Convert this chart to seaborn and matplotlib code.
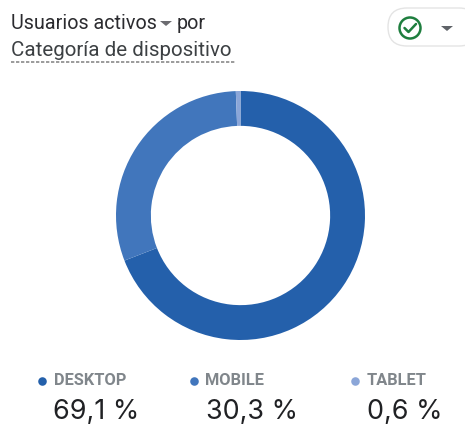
"""Donut chart of active users by device category."""

import matplotlib
matplotlib.use("Agg")
import matplotlib.pyplot as plt
from matplotlib.patches import FancyBboxPatch, Circle
import seaborn as sns

categories = ["DESKTOP", "MOBILE", "TABLET"]
shares = [69.1, 30.3, 0.6]
share_labels = ["69,1 %", "30,3 %", "0,6 %"]
colors = ["#2460AB", "#4176BC", "#8BA6D8"]

sns.set_theme(style="white")
plt.rcParams["font.family"] = ["Roboto", "DejaVu Sans"]

fig = plt.figure(figsize=(4.65, 4.25), dpi=100, facecolor="white")

# overlay in pixel coordinates for the text and widgets
bg = fig.add_axes([0, 0, 1, 1])
bg.set_xlim(0, 465)
bg.set_ylim(425, 0)
bg.axis("off")

# --- Donut ---
ax = fig.add_axes([116 / 465, (425 - 340) / 425, 249 / 465, 249 / 425])
ax.pie(
    shares,
    colors=colors,
    startangle=90,
    counterclock=False,
    radius=1.0,
    wedgeprops={"width": 0.28, "edgecolor": "none"},
)
ax.set_xlim(-1, 1)
ax.set_ylim(-1, 1)

# --- Header ---
bg.text(11, 23, "Usuarios activos", fontsize=14.2, color="#2b2b2f", va="center")
bg.fill([160, 172, 166], [21, 21, 26], color="#6b6b70", lw=0)
bg.text(177, 23, "por", fontsize=14.2, color="#2b2b2f", va="center")
bg.text(11, 50, "Categoría de dispositivo", fontsize=14.8, color="#3c4043", va="center")
bg.plot([11, 235], [61.5, 61.5], color="#8a8a8a", lw=1.2, ls=(0, (2, 1)))

# --- Status button ---
bg.add_patch(FancyBboxPatch(
    (388, 8), 90, 38, boxstyle="round,pad=0,rounding_size=19",
    fc="white", ec="#e4e4e4", lw=1,
))
bg.add_patch(Circle((410, 28), 10.5, fc="none", ec="#1e7e3e", lw=1.8))
bg.plot([404.5, 408.5, 416], [28, 32, 24], color="#1e7e3e", lw=1.8)
bg.fill([441, 453, 447], [26, 26, 31], color="#5f6368", lw=0)

# --- Legend ---
dot_x = [42, 194, 355]
label_x = [54, 205, 367]
value_x = [53, 206, 367]
for i, name in enumerate(categories):
    bg.scatter(dot_x[i], 381, s=38, color=colors[i], lw=0)
    bg.text(label_x[i], 380.5, name, fontsize=11.8, fontweight="bold",
            color="#80868b", va="center")
    bg.text(value_x[i], 411.5, share_labels[i], fontsize=19.4,
            family=["Inter", "DejaVu Sans"], color="#202124", va="center")

fig.savefig("out.png", dpi=100)
plt.close(fig)
